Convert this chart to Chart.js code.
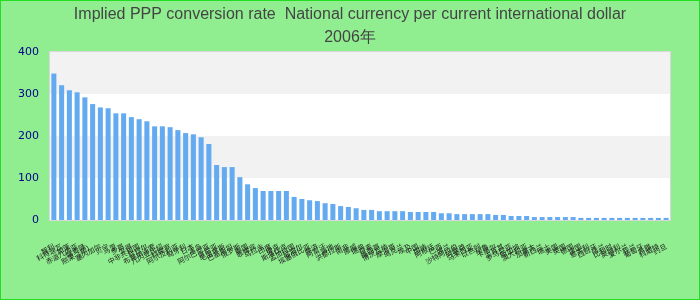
<!DOCTYPE html>
<html>
<head>
<meta charset="utf-8">
<script src="https://cdn.jsdelivr.net/npm/chart.js@4"></script>
<style>
  html,body{margin:0;padding:0;background:#90ee90;}
  #wrap{width:700px;height:300px;}
</style>
</head>
<body>
<div id="wrap"><canvas id="canvas1"></canvas></div>
<script>
const titleLines = ['Implied PPP conversion rate  National currency per current international dollar', '2006年'];

const countries = ["智利","科特迪瓦","加蓬","赤道几内亚","喀麦隆","刚果（布）","塞内加尔","贝宁","马里","多哥",
  "乍得","中非共和国","尼日尔","布基纳法索","几内亚比绍","科摩罗","阿尔及利亚","匈牙利","日本","冰岛",
  "阿尔巴尼亚","肯尼亚","毛里求斯","巴基斯坦","俄罗斯","泰国","菲律宾","乌拉圭","印度","捷克",
  "斯洛伐克","孟加拉国","尼泊尔","埃塞俄比亚","斐济","阿富汗","海地","洪都拉斯","南非","挪威",
  "瑞典","丹麦","墨西哥","博茨瓦纳","摩洛哥","乌克兰","埃及","中国","加纳","阿根廷",
  "巴西","波兰","沙特阿拉伯","阿联酋","马来西亚","以色列","秘鲁","卡塔尔","土耳其","罗马尼亚",
  "新加坡","澳大利亚","加拿大","新西兰","瑞士","美国","英国","德国","法国","意大利",
  "西班牙","荷兰","比利时","奥地利","爱尔兰","芬兰","葡萄牙","希腊","科威特","约旦"];

const pppRate = [349,321,309,304,292,276,268,266,254,254,
  245,240,235,223,223,221,214,207,204,197,
  181,131,126,126,102,85,76,69,69,69,
  69,55,50,47,45,40,38,33,31,28,
  24,24,21,21,21,21,19,19,19,19,
  16,16,14,14,14,14,14,12,12,9.5,
  9.5,9.5,7,7,7,7,7,7,5,5,
  5,5,5,5,5,5,5,5,5,5];

const yTicks = [0,100,200,300,400];

// background, alternating bands, borders
const backdrop = {
  id:'backdrop',
  beforeDraw(chart){
    const {ctx, chartArea:a, scales:{y}} = chart;
    ctx.save();
    ctx.fillStyle='#90ee90';
    ctx.fillRect(0,0,chart.width,chart.height);
    ctx.strokeStyle='#22dd22';
    ctx.lineWidth=2;
    ctx.strokeRect(0,0,chart.width,chart.height);
    for(let i=0;i<yTicks.length-1;i++){
      const top=y.getPixelForValue(yTicks[i+1]), bot=y.getPixelForValue(yTicks[i]);
      ctx.fillStyle = i%2 ? '#f2f2f2' : '#ffffff';
      ctx.fillRect(a.left,top,a.right-a.left,bot-top);
    }
    ctx.restore();
  },
  afterDatasetsDraw(chart){
    const {ctx, chartArea:a} = chart;
    ctx.save();
    ctx.strokeStyle='#d8d8d8';
    ctx.lineWidth=1;
    ctx.strokeRect(a.left-0.5,a.top-0.5,a.right-a.left+1,a.bottom-a.top+1);
    ctx.restore();
  }
};

new Chart(document.getElementById('canvas1'), {
  type:'bar',
  data:{
    labels:countries,
    datasets:[{
      data:pppRate,
      backgroundColor:'#64aaf0',
      borderWidth:0,
      barPercentage:0.65,
      categoryPercentage:1
    }]
  },
  options:{
    responsive:true,
    maintainAspectRatio:false,
    animation:false,
    layout:{padding:0},
    plugins:{
      legend:{display:false},
      tooltip:{enabled:false},
      title:{
        display:true,
        text:titleLines,
        color:'#444',
        font:{family:'"Liberation Sans", Arial, sans-serif', size:16, weight:'normal', lineHeight:1.4375},
        padding:{top:3,bottom:3}
      }
    },
    scales:{
      x:{
        grid:{display:false},
        border:{display:false},
        ticks:{
          autoSkip:false,
          minRotation:28,
          maxRotation:28,
          padding:14,
          color:'#222',
          font:{family:'"Noto Sans CJK SC", sans-serif', size:7}
        },
        afterFit(s){ s.height=80; }
      },
      y:{
        min:0,
        max:400,
        grid:{display:false},
        border:{display:false},
        ticks:{
          stepSize:100,
          padding:3,
          color:'#00008b',
          font:{family:'"DejaVu Sans", sans-serif', size:11}
        },
        afterFit(s){ s.width=50; }
      },
      // empty right-hand axis keeps the right margin so the title stays centred on the page
      yRight:{
        position:'right',
        min:0,
        max:400,
        grid:{display:false},
        border:{display:false},
        ticks:{display:false},
        afterFit(s){ s.width=30; }
      }
    }
  },
  plugins:[backdrop]
});
</script>
</body>
</html>
